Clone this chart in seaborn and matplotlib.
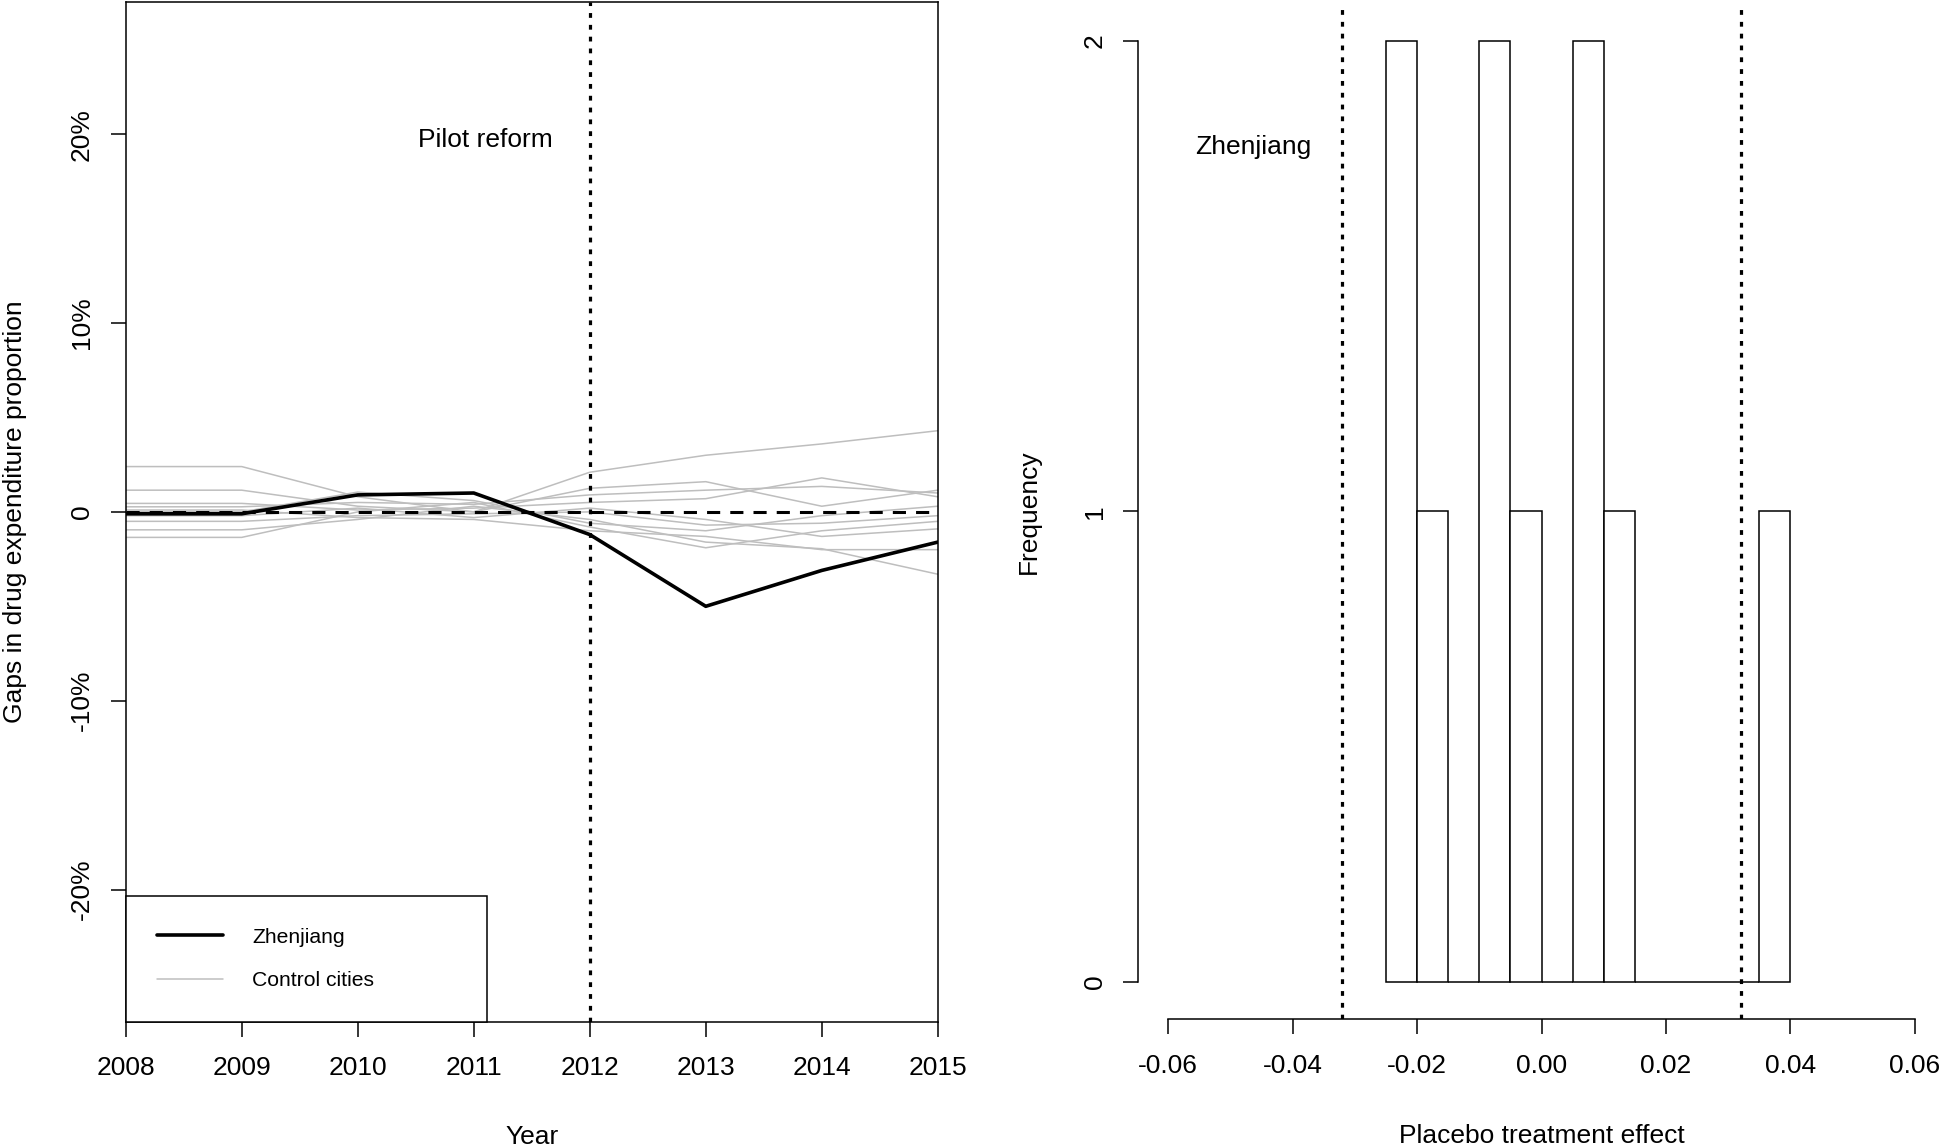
import numpy as np
import pandas as pd
import matplotlib
matplotlib.use("Agg")
import matplotlib.pyplot as plt
from matplotlib.lines import Line2D
import seaborn as sns

# ---------------- data ----------------
years = [2008, 2009, 2010, 2011, 2012, 2013, 2014, 2015]
zhenjiang_gap = [-0.001, -0.001, 0.009, 0.010, -0.012, -0.050, -0.031, -0.016]

control_c1 = [0.024, 0.024, 0.008, 0.000, 0.021, 0.030, 0.036, 0.043]
control_c2 = [0.0115, 0.0115, 0.003, 0.000, 0.0125, 0.016, 0.003, 0.0115]
control_c3 = [0.0045, 0.0045, 0.001, 0.002, 0.005, 0.007, 0.018, 0.008]
control_c4 = [0.0027, 0.0027, 0.005, 0.004, 0.009, 0.0115, 0.0135, 0.010]
control_c5 = [-0.005, -0.005, -0.002, -0.001, 0.000, -0.007, -0.006, -0.002]
control_c6 = [-0.0095, -0.0095, -0.004, 0.003, -0.004, -0.016, -0.0195, -0.033]
control_c7 = [-0.0135, -0.0135, 0.000, 0.005, -0.008, -0.019, -0.010, -0.005]
control_c8 = [0.001, 0.001, -0.003, -0.004, -0.010, -0.013, -0.020, -0.020]
control_c9 = [-0.002, -0.002, 0.002, -0.003, 0.002, -0.004, -0.013, -0.009]
control_c10 = [0.000, 0.000, 0.0105, 0.006, -0.006, -0.010, -0.002, 0.003]
control_names = ["C1", "C2", "C3", "C4", "C5", "C6", "C7", "C8", "C9", "C10"]
control_series = [control_c1, control_c2, control_c3, control_c4, control_c5,
                  control_c6, control_c7, control_c8, control_c9, control_c10]

gap_ticks = [-0.2, -0.1, 0.0, 0.1, 0.2]
gap_tick_labels = ["-20%", "-10%", "0", "10%", "20%"]

placebo_effects = [-0.0235, -0.0215, -0.0175, -0.0085, -0.0065, -0.0025,
                   0.0065, 0.0085, 0.0125, 0.0375]
hist_bin_edges = [-0.025, -0.020, -0.015, -0.010, -0.005, 0.000, 0.005,
                  0.010, 0.015, 0.020, 0.025, 0.030, 0.035, 0.040]
zhenjiang_effect = [-0.032, 0.032]
effect_ticks = [-0.06, -0.04, -0.02, 0.00, 0.02, 0.04, 0.06]
effect_tick_labels = ["-0.06", "-0.04", "-0.02", "0.00", "0.02", "0.04", "0.06"]
freq_ticks = [0, 1, 2]
freq_tick_labels = ["0", "1", "2"]

# ---------------- style ----------------
sns.set_style("white", rc={"axes.edgecolor": "black", "text.color": "black",
                           "xtick.color": "black", "ytick.color": "black",
                           "axes.labelcolor": "black"})
plt.rcParams["font.family"] = ["Liberation Sans", "DejaVu Sans"]

LW_AX = 1.1
FS = 19

fig = plt.figure(figsize=(19.46, 11.48), dpi=100)
ax1 = fig.add_axes([0.0646, 0.110, 0.4173, 0.8882])
ax2 = fig.add_axes([0.5850, 0.1122, 0.4143, 0.8849])

# ---------------- left panel ----------------
df_ctrl = pd.DataFrame({
    "year": np.tile(years, len(control_names)),
    "gap": np.concatenate([np.array(s) for s in control_series]),
    "city": np.repeat(control_names, len(years)),
})
sns.lineplot(data=df_ctrl, x="year", y="gap", units="city", estimator=None,
             color="#bebebe", linewidth=1.1, ax=ax1, legend=False)
sns.lineplot(x=years, y=zhenjiang_gap, color="black", linewidth=2.6, ax=ax1)
ax1.axhline(0, color="black", linewidth=2.2, linestyle=(0, (4.3, 3.3)))
ax1.axvline(2012, color="black", linewidth=2.3, linestyle=(0, (1.5, 2.2)))

ax1.set_xlim(2008, 2015)
ax1.set_ylim(-0.27, 0.27)
ax1.set_xticks(years)
ax1.set_xticklabels([str(y) for y in years])
ax1.set_yticks(gap_ticks)
ax1.set_yticklabels(gap_tick_labels, rotation=90, va="center")
ax1.tick_params(axis="both", direction="out", length=10.8, width=LW_AX,
                labelsize=FS, bottom=True, left=True)
ax1.tick_params(axis="x", pad=14)
ax1.tick_params(axis="y", pad=12)
for sp in ax1.spines.values():
    sp.set_linewidth(LW_AX)
    sp.set_visible(True)

ax1.set_xlabel("Year", fontsize=FS, va="center")
ax1.xaxis.set_label_coords(0.5, -0.113)
ax1.set_ylabel("Gaps in drug expenditure proportion", fontsize=FS, va="center")
ax1.yaxis.set_label_coords(-0.136, 0.5)

ax1.text(2011.1, 0.197, "Pilot reform", ha="center", va="center", fontsize=FS)

handles = [Line2D([], [], color="black", linewidth=2.6),
           Line2D([], [], color="#bebebe", linewidth=1.1)]
leg = ax1.legend(handles=handles, labels=["Zhenjiang", "Control cities"],
                 loc="lower left", bbox_to_anchor=(0, 0, 0.4446, 1),
                 mode="expand", borderaxespad=0, fontsize=15.2,
                 frameon=True, fancybox=False, edgecolor="black",
                 framealpha=1, borderpad=1.5, labelspacing=1.15,
                 handlelength=3.1, handletextpad=1.4)
leg.get_frame().set_linewidth(LW_AX)
leg._legend_box.align = "left"

# ---------------- right panel ----------------
sns.histplot(x=placebo_effects, bins=hist_bin_edges, color="white",
             edgecolor="black", linewidth=1.1, alpha=1, ax=ax2)
for v in zhenjiang_effect:
    ax2.axvline(v, color="black", linewidth=2.3, linestyle=(0, (1.5, 2.2)))
ax2.text(-0.0463, 1.775, "Zhenjiang", ha="center", va="center", fontsize=FS)

ax2.set_xlim(-0.0648, 0.0648)
ax2.set_ylim(-0.08, 2.08)
ax2.set_xticks(effect_ticks)
ax2.set_xticklabels(effect_tick_labels)
ax2.set_yticks(freq_ticks)
ax2.set_yticklabels(freq_tick_labels, rotation=90, va="center")
ax2.tick_params(axis="both", direction="out", length=10.8, width=LW_AX,
                labelsize=FS, bottom=True, left=True)
ax2.tick_params(axis="x", pad=14)
ax2.tick_params(axis="y", pad=12)
for name, sp in ax2.spines.items():
    sp.set_linewidth(LW_AX)
ax2.spines["top"].set_visible(False)
ax2.spines["right"].set_visible(False)
ax2.spines["left"].set_bounds(0, 2)
ax2.spines["bottom"].set_bounds(-0.06, 0.06)

ax2.set_xlabel("Placebo treatment effect", fontsize=FS, va="center")
ax2.xaxis.set_label_coords(0.5, -0.115)
ax2.set_ylabel("Frequency", fontsize=FS, va="center")
ax2.yaxis.set_label_coords(-0.136, 0.5)

fig.savefig("out.png", dpi=100)
